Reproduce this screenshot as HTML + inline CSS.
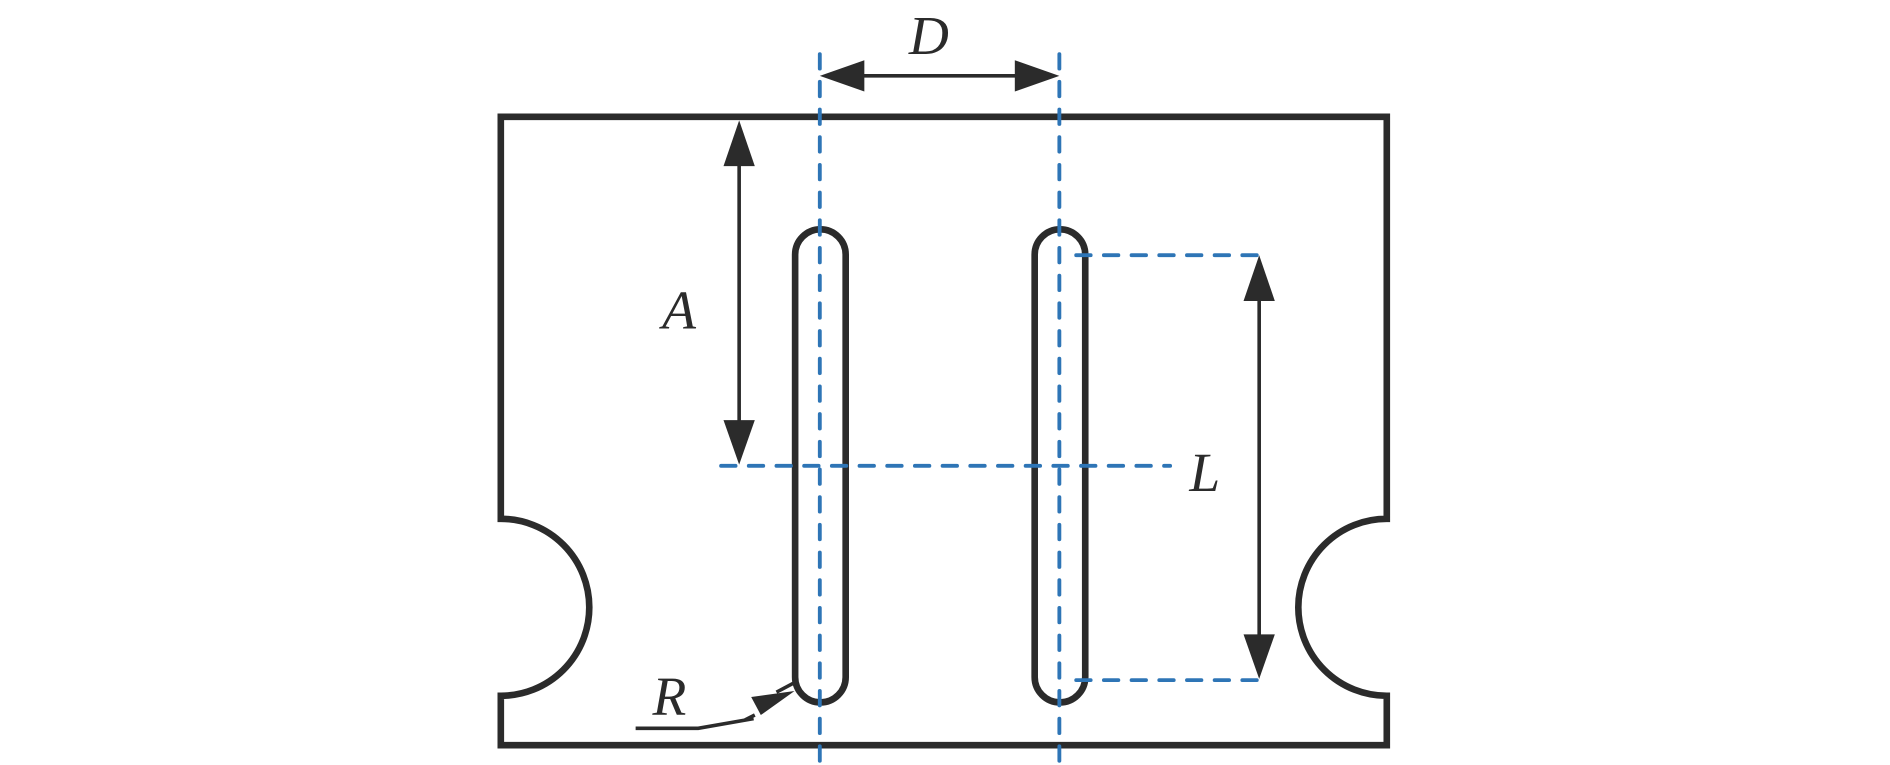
<!DOCTYPE html>
<html><head><style>html,body{margin:0;padding:0;background:#fff;}svg{display:block}</style></head>
<body>
<svg width="1890" height="765" viewBox="0 0 1570 635.5" xmlns="http://www.w3.org/2000/svg">
<g fill="none" stroke="#2b2b2b" stroke-width="5.5">
<path d="M416,431 V97 H1152 V431 A73.5,73.5 0 0 0 1152,578 V619 H416 V578 A73.5,73.5 0 0 0 416,431 Z"/>
<rect x="660.5" y="190.5" width="42" height="393" rx="21"/>
<rect x="859.5" y="190.5" width="42" height="393" rx="21"/>
</g>
<g stroke="#2e75b6" stroke-width="3.2" stroke-dasharray="12 11" fill="none" stroke-linecap="round">
<line x1="681" y1="45" x2="681" y2="662"/>
<line x1="880" y1="45" x2="880" y2="662"/>
<line x1="599" y1="387" x2="972" y2="387"/>
<line x1="894" y1="212" x2="1046" y2="212"/>
<line x1="894" y1="565" x2="1046" y2="565"/>
</g>
<g stroke="#2b2b2b" stroke-width="3" fill="none">
<line x1="715" y1="63" x2="846" y2="63"/>
<line x1="614" y1="135" x2="614" y2="352"/>
<line x1="1046" y1="248" x2="1046" y2="530"/>
<polyline points="528,605 580,605 626,597"/>
<line x1="619" y1="598" x2="627" y2="594"/>
<line x1="645" y1="575" x2="662" y2="566"/>
</g>
<g fill="#2b2b2b">
<polygon points="681,63 718,50 718,76"/>
<polygon points="880,63 843,50 843,76"/>
<polygon points="614,100 601,138 627,138"/>
<polygon points="614,386 601,349 627,349"/>
<polygon points="1046,212 1033,250 1059,250"/>
<polygon points="1046,564 1033,527 1059,527"/>
<polygon points="660,574 624,579 632,594"/>
</g>
<g font-family="Liberation Serif, serif" font-style="italic" font-size="46" fill="#2b2b2b">
<text x="755" y="45">D</text>
<text x="550" y="273">A</text>
<text x="988" y="408">L</text>
<text x="542" y="594">R</text>
</g>
</svg>
</body></html>
